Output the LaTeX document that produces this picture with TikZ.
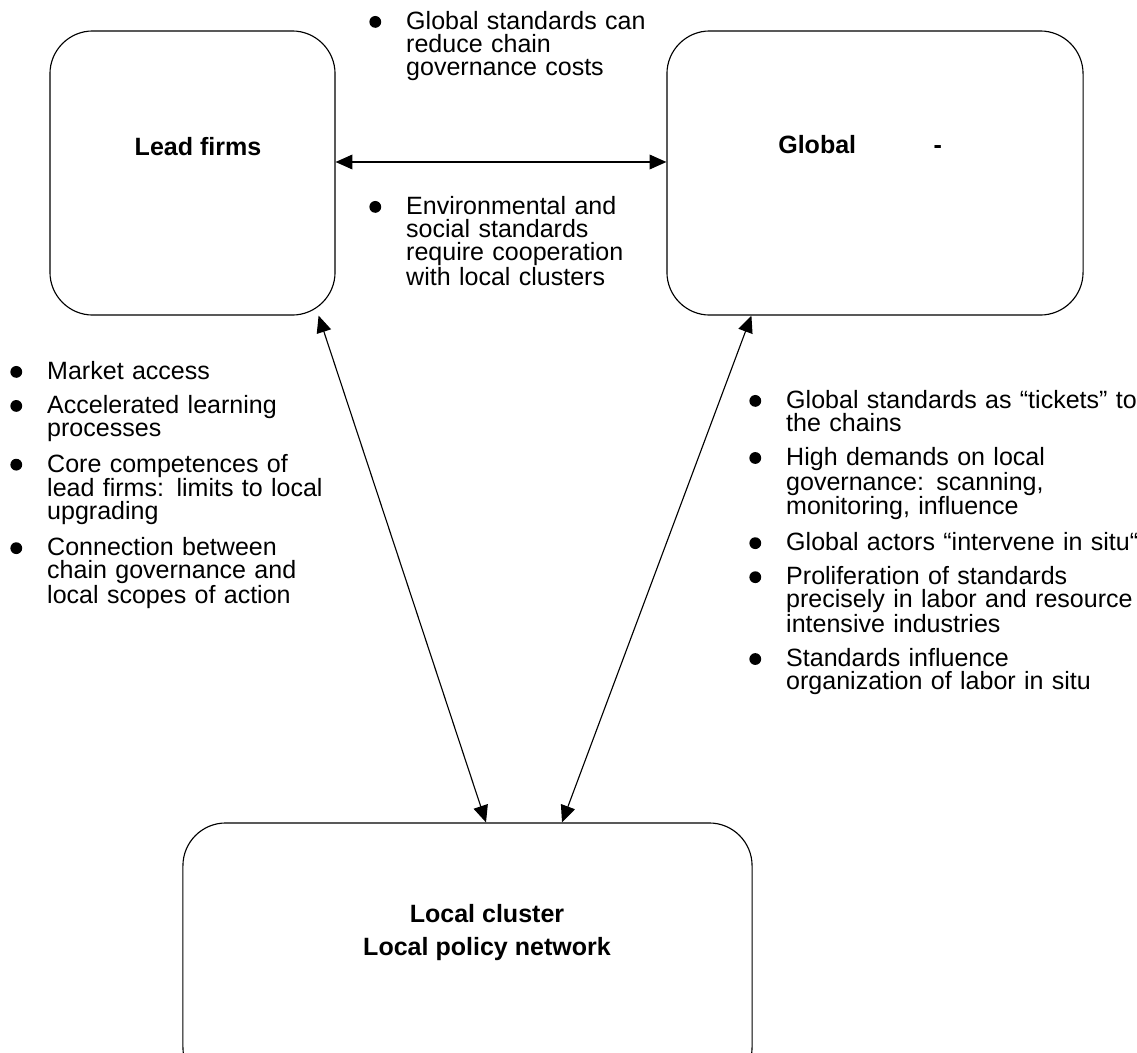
\documentclass[tikz,border=0pt]{standalone}
\usepackage{fontspec}
\setmainfont{Liberation Sans}
\usetikzlibrary{arrows.meta}

% bullet mark and list for the notes
\newcommand{\dotmark}{\tikz[baseline=-5.3pt]\fill (0,0) circle (4.2pt);}
\newenvironment{pointlist}{%
  \begin{list}{\makebox[0pt]{\dotmark}}{%
    \setlength{\leftmargin}{22pt}\setlength{\labelwidth}{0pt}%
    \setlength{\labelsep}{22pt}\setlength{\itemindent}{0pt}%
    \setlength{\itemsep}{7.8pt}\setlength{\parsep}{0pt}%
    \setlength{\topsep}{0pt}\setlength{\partopsep}{0pt}}\raggedright}
  {\end{list}}

\begin{document}
\begin{tikzpicture}[x=0.025cm, y=-0.025cm,
    box/.style={draw, line width=0.8pt, rounded corners=1.07cm, inner sep=0pt},
    boxlabel/.style={font=\fontsize{17.8}{23}\selectfont\bfseries, inner sep=0pt},
    notes/.style={anchor=north west, inner sep=0pt, font=\fontsize{17.8}{16.4}\selectfont},
    biarrow/.style={{Triangle[length=12pt,width=10.5pt]}-{Triangle[length=12pt,width=10.5pt]}, line width=0.8pt}]
    \useasboundingbox (0,0) rectangle (1137,1052);

    \node[box, minimum width=7.125cm, minimum height=7.1cm] (lead) at (192.5,173) {};
    \node[box, minimum width=10.4cm, minimum height=7.1cm] (global) at (875,173) {};
    \node[box, minimum width=14.225cm, minimum height=6.675cm] (cluster) at (467.5,956.5) {};

    \node[boxlabel, anchor=base] at ([shift={(5.5,-18)}]lead.center) {Lead firms};
    \node[boxlabel, anchor=base west] at ([shift={(-97,-20)}]global.center) {Global\hspace{55pt}-};
    \node[boxlabel, align=center] at ([shift={(19.5,-24)}]cluster.center) {Local cluster\\Local policy network};

    \draw[biarrow] ([yshift=0.275cm]lead.east) -- ([yshift=0.275cm]global.west);
    \draw[biarrow] ([xshift=-0.425cm]lead.south east) -- ([xshift=0.4625cm]cluster.north);
    \draw[biarrow] ([xshift=2.125cm]global.south west) -- ([xshift=2.3625cm]cluster.north);

    \node[notes, text width=8cm] (costs) at (375,6) {\begin{pointlist}
      \item Global standards can\\ reduce chain\\ governance costs
    \end{pointlist}};
    \node[notes, text width=8cm] (coop) at (375,191) {\begin{pointlist}
      \item Environmental and\\ social standards\\ require cooperation\\ with local clusters
    \end{pointlist}};
    \node[notes, text width=8.25cm] (access) at (16,356) {\begin{pointlist}
      \item Market access
      \item Accelerated learning\\ processes
      \item Core competences of\\ lead firms: limits to local\\ upgrading
      \item Connection between\\ chain governance and\\ local scopes of action
    \end{pointlist}};
    \node[notes, text width=10.5cm] (tickets) at (755,385) {\begin{pointlist}
      \item Global standards as “tickets” to\\ the chains
      \item High demands on local\\ governance: scanning,\\ monitoring, influence
      \item Global actors “intervene in situ“
      \item Proliferation of standards\\ precisely in labor and resource\\ intensive industries
      \item Standards influence\\ organization of labor in situ
    \end{pointlist}};
\end{tikzpicture}
\end{document}
